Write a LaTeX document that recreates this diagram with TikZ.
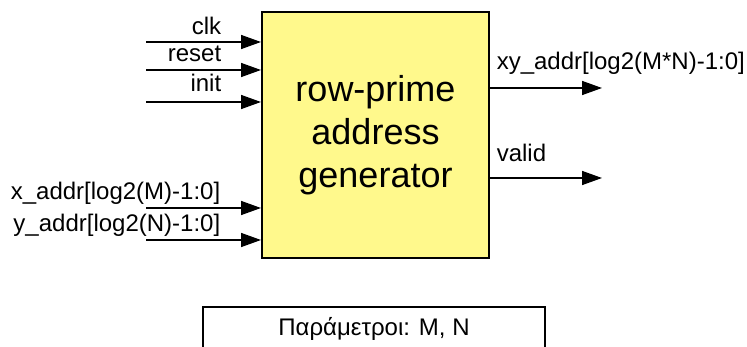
\documentclass[tikz,border=0pt]{standalone}
\usepackage{fontspec}
\setmainfont{Liberation Sans}
\usetikzlibrary{arrows.meta,positioning}

\begin{document}
\begin{tikzpicture}[x=1pt,y=-1pt,>={Triangle[length=20pt,width=14pt]},
  line width=1.5pt,
  gen block/.style={rectangle,draw,fill=yellow!45,line width=2pt,
    minimum width=227pt,minimum height=246pt,align=center,
    font=\fontsize{36}{43}\selectfont},
  sig label/.style={font=\fontsize{24}{26}\selectfont,inner sep=0pt},
  param box/.style={rectangle,draw,line width=1.2pt,
    minimum width=342pt,minimum height=60pt}]

  \useasboundingbox (0,0) rectangle (747,347);
  \clip (0,0) rectangle (747,347);

  \node[gen block] (G) at (375.5,135) {row-prime\\address\\generator};

  % input ports
  \coordinate (clk in) at (146,42);
  \coordinate (reset in) at (146,70);
  \coordinate (init in) at (146,102);
  \coordinate (x in) at (146,208);
  \coordinate (y in) at (146,240);

  \node[sig label,anchor=east] (clk) at (222,26) {clk};
  \node[sig label,anchor=east] (reset) at (222,54) {reset};
  \node[sig label,anchor=east] (init) at (222,83) {init};
  \node[sig label,anchor=east] (x addr) at (221,193) {x\_addr[log2(M)-1:0]};
  \node[sig label,anchor=east] (y addr) at (221,225) {y\_addr[log2(N)-1:0]};

  \foreach \port in {clk in,reset in,init in,x in,y in}
    \draw[->] (\port) -- (\port -| G.west);

  % output ports
  \coordinate (xy out) at (602,88);
  \coordinate (valid out) at (602,178);

  \node[sig label,anchor=west] (xy addr) at (496,63) {xy\_addr[log2(M*N)-1:0]};
  \node[sig label,anchor=west] (valid) at (496,153) {valid};

  \draw[->] (xy out -| G.east) -- (xy out);
  \draw[->] (valid out -| G.east) -- (valid out);

  % parameters
  \node[param box] (params) at (374,337) {};
  \node[sig label] (param text) at (374,329) {Παράμετροι: M, N};

\end{tikzpicture}
\end{document}
